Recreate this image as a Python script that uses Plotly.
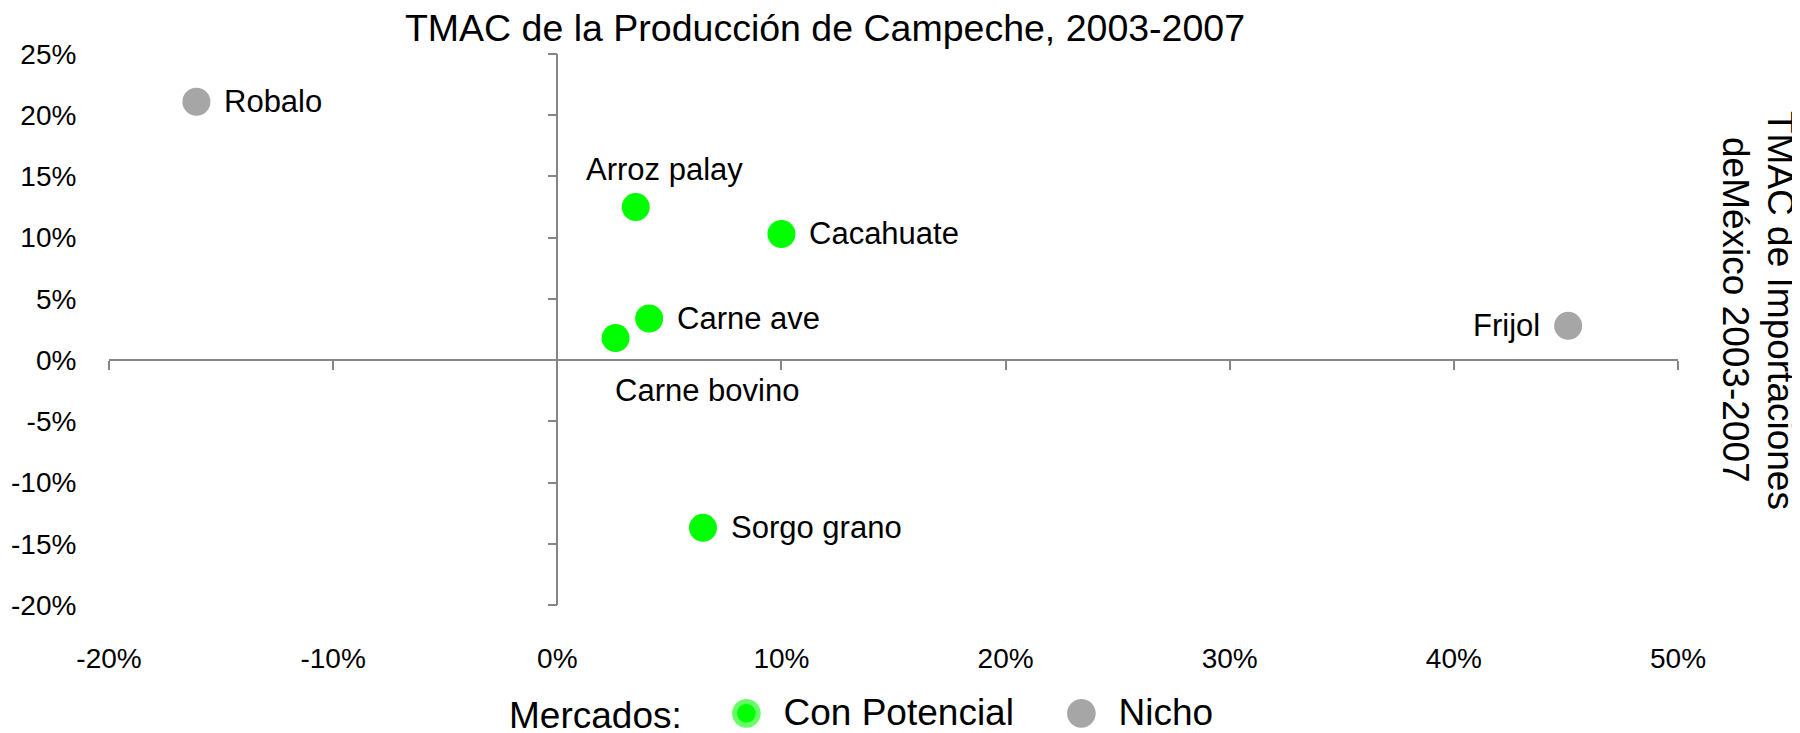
import plotly.graph_objects as go

# ---- data ----
products = ["Robalo", "Arroz palay", "Cacahuate", "Carne ave", "Carne bovino", "Sorgo grano", "Frijol"]
tmac_produccion = [-16.1, 3.5, 10.0, 4.1, 2.6, 6.5, 45.1]      # x (%)
tmac_importaciones = [21.1, 12.5, 10.3, 3.4, 1.8, -13.7, 2.8]   # y (%)
mercado = ["Nicho", "Con Potencial", "Con Potencial", "Con Potencial", "Con Potencial", "Con Potencial", "Nicho"]
x_ticks = [-20, -10, 0, 10, 20, 30, 40, 50]
y_ticks = [-20, -15, -10, -5, 0, 5, 10, 15, 20, 25]

# ---- styles ----
colors = {"Con Potencial": "#00FF00", "Nicho": "#A6A6A6"}
legend_ring = {"Con Potencial": "#66FF66", "Nicho": "#A6A6A6"}
label_pos = {  # (xanchor, xshift, yshift)
    "Robalo": ("left", 26, 0), "Arroz palay": ("center", 29, 38), "Cacahuate": ("left", 26, 0),
    "Carne ave": ("left", 26, 0), "Carne bovino": ("center", 91, -52), "Sorgo grano": ("left", 26, 0),
    "Frijol": ("right", -26, 0),
}
AX = "#868686"
FONT = "Liberation Sans, Arial, sans-serif"

OFF = 8  # page body margin
W, H = 1800 - OFF, 733 - OFF
L, R, T, B = 101, 122, 46, 128
xr = [x_ticks[0], x_ticks[-1]]
yr = [y_ticks[0], y_ticks[-1]]

fig = go.Figure()
for m in ["Con Potencial", "Nicho"]:
    xs = [x for x, k in zip(tmac_produccion, mercado) if k == m]
    ys = [y for y, k in zip(tmac_importaciones, mercado) if k == m]
    fig.add_trace(go.Scatter(x=xs, y=ys, mode="markers", showlegend=False,
                             marker=dict(size=28, color=colors[m], line=dict(width=0)),
                             hoverinfo="skip"))
# legend entries (swatch drawn as a large glyph in the entry text)
for m in ["Con Potencial", "Nicho"]:
    swatch = (f'<span style="font-size:55px;color:{colors[m]};stroke:{legend_ring[m]};'
              f'stroke-width:5px;baseline-shift:-4px">●</span>')
    fig.add_trace(go.Scatter(x=[None], y=[None], mode="markers", name=f"{swatch}&nbsp;&nbsp;{m}",
                             marker=dict(size=1, color="rgba(0,0,0,0)", line=dict(width=0))))

# crossing axes through zero (free-positioned overlay axes)
fig.add_trace(go.Scatter(x=[None], y=[None], xaxis="x2", yaxis="y2", showlegend=False, hoverinfo="skip"))

for name, x, y in zip(products, tmac_produccion, tmac_importaciones):
    xa, xs, ys = label_pos[name]
    fig.add_annotation(x=x, y=y, text=name, showarrow=False, xanchor=xa, yanchor="middle",
                       xshift=xs, yshift=ys, font=dict(family=FONT, size=31, color="#000"))

pw, ph = W - L - R, H - T - B
for line, cx in [("TMAC de Importaciones", 1781 - OFF), ("deMéxico 2003-2007", 1736 - OFF)]:
    fig.add_annotation(xref="paper", yref="paper", x=(cx - L) / pw, y=(H - B - (310 - OFF)) / ph,
                       textangle=90, text=line, showarrow=False,
                       font=dict(family=FONT, size=37, color="#000"), xanchor="center", yanchor="middle")

y0_frac = (0 - yr[0]) / (yr[1] - yr[0])
x0_frac = (0 - xr[0]) / (xr[1] - xr[0])

fig.update_layout(
    width=W, height=H, plot_bgcolor="white", paper_bgcolor="white",
    margin=dict(l=L, r=R, t=T, b=B, autoexpand=False),
    title=dict(text="TMAC de la Producción de Campeche, 2003-2007", x=(825 - OFF)/W, xanchor="center",
               y=1-20/H, yanchor="middle", yref="container", font=dict(family=FONT, size=37.5, color="#000")),
    xaxis=dict(range=xr, tickvals=x_ticks, ticktext=[f"{v}%" for v in x_ticks], showgrid=False, zeroline=False,
               showline=False, ticks="outside", ticklen=28, tickcolor="rgba(0,0,0,0)",
               tickfont=dict(family=FONT, size=28, color="#000")),
    yaxis=dict(range=yr, tickvals=y_ticks, ticktext=[f"{v}%" for v in y_ticks], showgrid=False, zeroline=False,
               showline=False, ticks="outside", ticklen=26, tickcolor="rgba(0,0,0,0)",
               tickfont=dict(family=FONT, size=28, color="#000")),
    xaxis2=dict(range=xr, tickvals=x_ticks, overlaying="x", anchor="free", position=y0_frac,
                showline=True, linecolor=AX, linewidth=1.5, ticks="outside", ticklen=9, tickcolor=AX,
                tickwidth=1.5, showticklabels=False, showgrid=False, zeroline=False),
    yaxis2=dict(range=yr, tickvals=y_ticks, overlaying="y", anchor="free", position=x0_frac,
                showline=True, linecolor=AX, linewidth=1.5, ticks="outside", ticklen=9, tickcolor=AX,
                tickwidth=1.5, showticklabels=False, showgrid=False, zeroline=False),
    legend=dict(orientation="h", xref="container", yref="container", x=499/W, xanchor="left",
                y=1-(711 - OFF)/H, yanchor="middle", font=dict(family=FONT, size=37, color="#000"),
                title=dict(text="Mercados:", side="left", font=dict(family=FONT, size=37, color="#000")),
                itemwidth=30, entrywidth=290, entrywidthmode="pixels", bgcolor="rgba(0,0,0,0)"),
    showlegend=True,
)

fig.write_html("out.html")
